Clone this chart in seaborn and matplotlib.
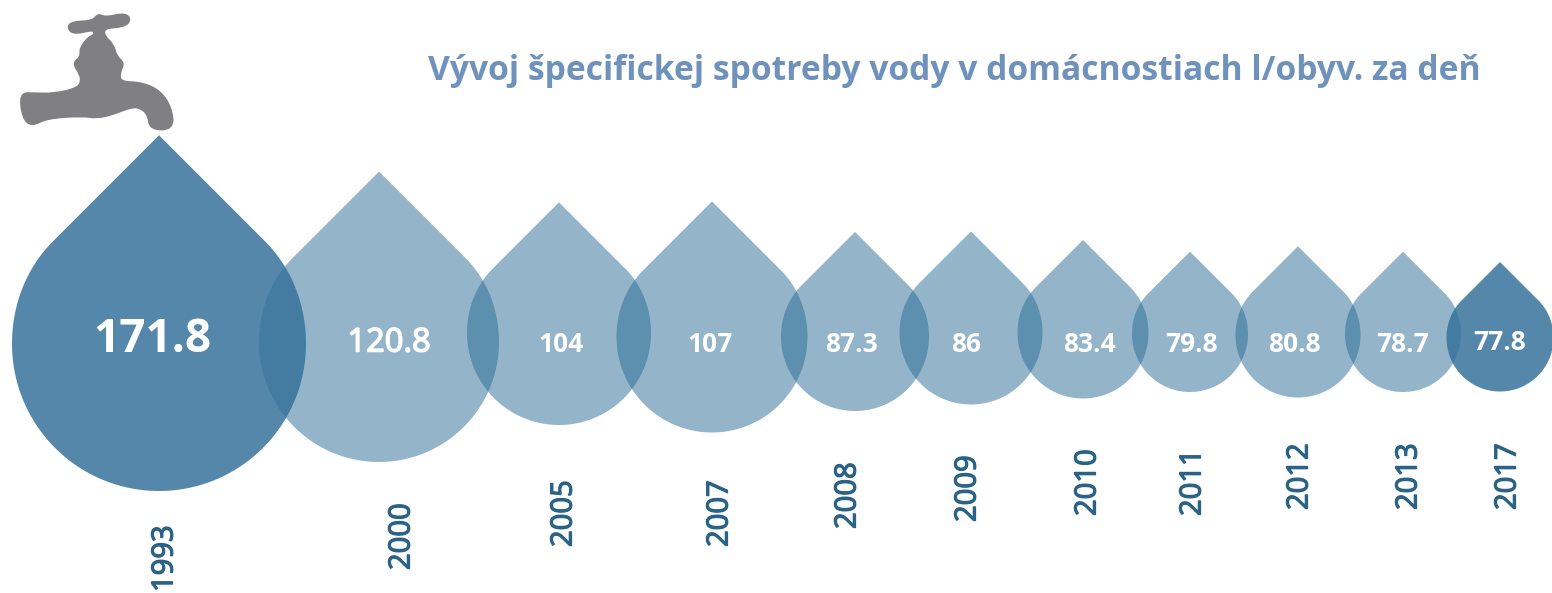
import numpy as np
import pandas as pd
import seaborn as sns
import matplotlib.pyplot as plt
import matplotlib.patheffects as pe
from matplotlib.path import Path
from matplotlib.patches import PathPatch
from matplotlib.markers import MarkerStyle

sns.set_theme(style="white")
plt.rcParams['font.family'] = ['Open Sans', 'DejaVu Sans']

# data
years = ['1993', '2000', '2005', '2007', '2008', '2009', '2010', '2011', '2012', '2013', '2017']
values = ['171.8', '120.8', '104', '107', '87.3', '86', '83.4', '79.8', '80.8', '78.7', '77.8']
title = 'Vývoj špecifickej spotreby vody v domácnostiach l/obyv. za deň'

# layout of the infographic, in pixels (drop sizes are not to scale in the original)
drop_x = [159, 379, 559, 712, 855, 971, 1083, 1190, 1298, 1403, 1500]
drop_y = [344, 342, 333, 337, 337, 333, 333, 334, 335, 334, 338]
drop_r = [147, 120, 92, 95.5, 74, 71.5, 65.5, 58, 62.5, 58, 53.5]
dark = [True, False, False, False, False, False, False, False, False, False, True]
value_x = [152, 389, 561, 710, 852, 966, 1089, 1192, 1294, 1403, 1500]
value_y = [339, 343, 345, 345, 344, 344, 344, 344, 344, 344, 342]
value_fs = [33, 23.5, 19, 19, 19, 19, 19, 19, 19, 19, 19]
year_x = [165, 402, 564, 720, 848, 968, 1088, 1193, 1300, 1409, 1508]
year_bottom = [592, 570, 547, 547, 529, 522, 516, 516, 510, 510, 510]

# tap outline
tap_x = [62, 100, 160, 235, 248, 238, 222, 245, 242, 268, 285, 285, 225, 205, 215, 280, 295, 315, 375,
         390, 370, 310, 310, 338, 347, 370, 357, 358, 425, 480, 512, 518, 452, 447, 425, 395, 340, 290,
         250, 140, 95, 70]
tap_y = [282, 282, 284, 267, 240, 215, 190, 170, 145, 112, 108, 85, 100, 85, 68, 65, 44, 55, 42,
         60, 78, 82, 108, 135, 170, 190, 215, 248, 250, 275, 325, 386, 386, 345, 322, 318, 340, 352,
         345, 352, 376, 352]

# teardrop marker: lower half is a circle, straight sides from the tip, rounded shoulder
TIP = 1.42
ang = np.linspace(0, -np.pi, 80)
t = np.linspace(0, 1, 30)[:, None]
p = [np.array(q) for q in [(1, 0), (1, 0.30), (0.88, 0.54), (0.72, 0.70)]]
side = (1 - t) ** 3 * p[0] + 3 * (1 - t) ** 2 * t * p[1] + 3 * (1 - t) * t ** 2 * p[2] + t ** 3 * p[3]
side = np.vstack([side, [[0, TIP]]])
vx = np.r_[side[::-1, 0], np.cos(ang), -side[1:, 0]]
vy = np.r_[side[::-1, 1], np.sin(ang), side[1:, 1]]
marker = MarkerStyle(Path(np.column_stack([vx, vy]), closed=True))

fig = plt.figure(figsize=(15.52, 5.93), dpi=100)
ax = fig.add_axes([0, 0, 1, 1])

df = pd.DataFrame(dict(year=years, x=drop_x, y=drop_y, r=drop_r, dark=dark))
# custom markers get rescaled so the tip sits at 0.5 -> size in pt^2 from radius in px
df['s'] = (df.r * 0.72 * TIP / 0.5) ** 2
sizes = dict(zip(df.year, df.s))

sns.scatterplot(data=df[~df.dark], x='x', y='y', size='year', sizes=sizes, marker=marker,
                color='#296B95', alpha=0.5, linewidth=0, legend=False, ax=ax, clip_on=False)
sns.scatterplot(data=df[df.dark], x='x', y='y', size='year', sizes=sizes, marker=marker,
                color='#36729B', alpha=0.85, linewidth=0, legend=False, ax=ax, clip_on=False)

# tap, corners rounded with quadratic curves through the midpoints
pts = np.column_stack([tap_x, tap_y]) / 3
mids = (pts + np.roll(pts, -1, axis=0)) / 2
verts = [mids[-1]]
codes = [Path.MOVETO]
for c, m in zip(pts, mids):
    verts += [c, m]
    codes += [Path.CURVE3, Path.CURVE3]
ax.add_patch(PathPatch(Path(verts, codes), fc='#808083', ec='#808083', lw=2.5))

for v, x, y, fs in zip(values, value_x, value_y, value_fs):
    if v == '120.8':
        ax.text(x, y, v, color='white', fontsize=fs, ha='center', va='center',
                path_effects=[pe.withStroke(linewidth=1.1, foreground='white')])
    else:
        ax.text(x, y, v, color='white', fontsize=fs, fontweight='bold', ha='center', va='center')

for yr, x, b in zip(years, year_x, year_bottom):
    ax.text(x, b, yr, color='#2A6385', fontsize=21, rotation=90, ha='center', va='bottom',
            path_effects=[pe.withStroke(linewidth=0.9, foreground='#2A6385')])

ax.text(428, 71, title, color='#6F92BC', fontsize=24.2, fontweight='bold', ha='left', va='center')

ax.set_xlim(0, 1552)
ax.set_ylim(593, 0)
ax.set_axis_off()

fig.savefig('out.png', dpi=100, facecolor='white')
